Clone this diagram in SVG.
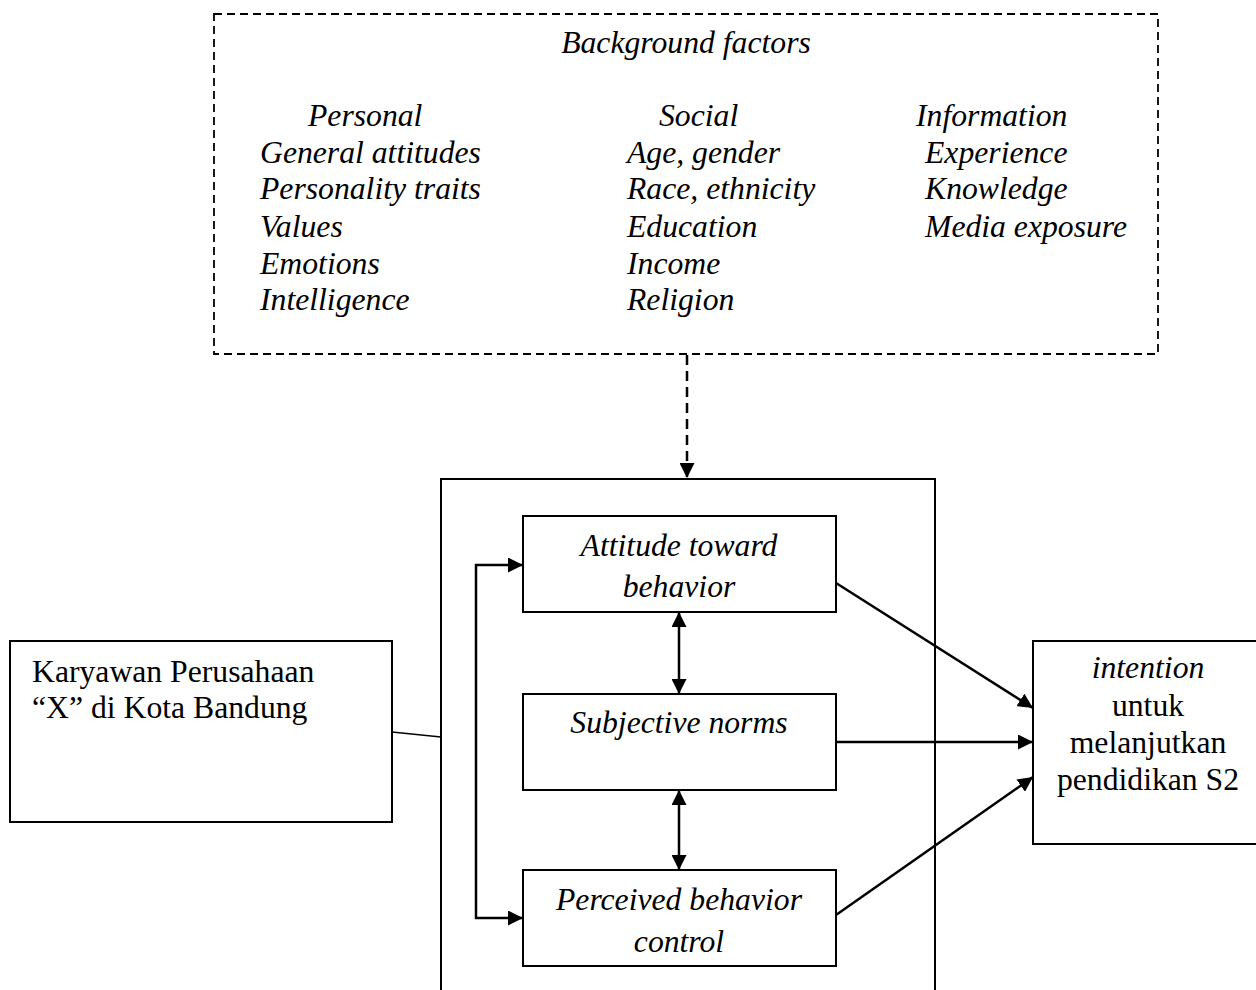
<svg xmlns="http://www.w3.org/2000/svg" width="1256" height="990" viewBox="0 0 1256 990">
<style>
text{font-family:"Liberation Serif","Times New Roman",serif;font-size:31.7px;fill:#000}
.i{font-style:italic}
.box{fill:#fff;stroke:#000;stroke-width:2}
.ln{fill:none;stroke:#000;stroke-width:2.5}
.c{text-anchor:middle}
</style>
<defs>
<marker id="ah" viewBox="0 0 10 10" refX="10" refY="5" markerWidth="15" markerHeight="15" markerUnits="userSpaceOnUse" orient="auto-start-reverse">
<path d="M0,0 L10,5 L0,10 z" fill="#000"/>
</marker>
</defs>
<rect width="1256" height="990" fill="#fff"/>
<g id="background">
<rect x="214" y="14" width="944" height="340" fill="none" stroke="#000" stroke-width="1.8" stroke-dasharray="8,5"/>
<text class="i c" x="686" y="53">Background factors</text>
<text class="i" x="308" y="126">Personal</text>
<text class="i" x="260" y="163">General attitudes</text>
<text class="i" x="260" y="199">Personality traits</text>
<text class="i" x="260" y="237">Values</text>
<text class="i" x="260" y="274">Emotions</text>
<text class="i" x="260" y="310">Intelligence</text>
<text class="i" x="659" y="126">Social</text>
<text class="i" x="627" y="163">Age, gender</text>
<text class="i" x="627" y="199">Race, ethnicity</text>
<text class="i" x="627" y="237">Education</text>
<text class="i" x="627" y="274">Income</text>
<text class="i" x="627" y="310">Religion</text>
<text class="i" x="916" y="126">Information</text>
<text class="i" x="925" y="163">Experience</text>
<text class="i" x="925" y="199">Knowledge</text>
<text class="i" x="925" y="237">Media exposure</text>
</g>
<g id="outer">
<rect class="box" x="441" y="479" width="494" height="530"/>
</g>
<g id="karyawan">
<rect class="box" x="10" y="641" width="382" height="181"/>
<text x="32" y="682">Karyawan Perusahaan</text>
<text x="32" y="718">“X” di Kota Bandung</text>
</g>
<g id="attitude">
<rect class="box" x="523" y="516" width="313" height="96"/>
<text class="i c" x="679" y="556">Attitude toward</text>
<text class="i c" x="679" y="597">behavior</text>
</g>
<g id="subjective">
<rect class="box" x="523" y="694" width="313" height="96"/>
<text class="i c" x="679" y="733">Subjective norms</text>
</g>
<g id="perceived">
<rect class="box" x="523" y="870" width="313" height="96"/>
<text class="i c" x="679" y="910">Perceived behavior</text>
<text class="i c" x="679" y="952">control</text>
</g>
<g id="intention">
<rect class="box" x="1033" y="641" width="230" height="203"/>
<text class="i c" x="1148" y="678">intention</text>
<text class="c" x="1148" y="716">untuk</text>
<text class="c" x="1148" y="753">melanjutkan</text>
<text class="c" x="1148" y="790">pendidikan S2</text>
</g>
<g id="connectors">
<line x1="687" y1="355" x2="687" y2="478" stroke="#000" stroke-width="2.5" stroke-dasharray="10,6" marker-end="url(#ah)"/>
<line x1="392" y1="732" x2="441" y2="737" stroke="#000" stroke-width="1.5"/>
<polyline class="ln" points="523,565 476,565 476,918 523,918" marker-start="url(#ah)" marker-end="url(#ah)"/>
<line class="ln" x1="679" y1="612" x2="679" y2="694" marker-start="url(#ah)" marker-end="url(#ah)"/>
<line class="ln" x1="679" y1="790" x2="679" y2="870" marker-start="url(#ah)" marker-end="url(#ah)"/>
<line class="ln" x1="836" y1="583" x2="1033" y2="708" marker-end="url(#ah)"/>
<line class="ln" x1="836" y1="742" x2="1033" y2="742" marker-end="url(#ah)"/>
<line class="ln" x1="836" y1="915" x2="1033" y2="777" marker-end="url(#ah)"/>
</g>
</svg>
